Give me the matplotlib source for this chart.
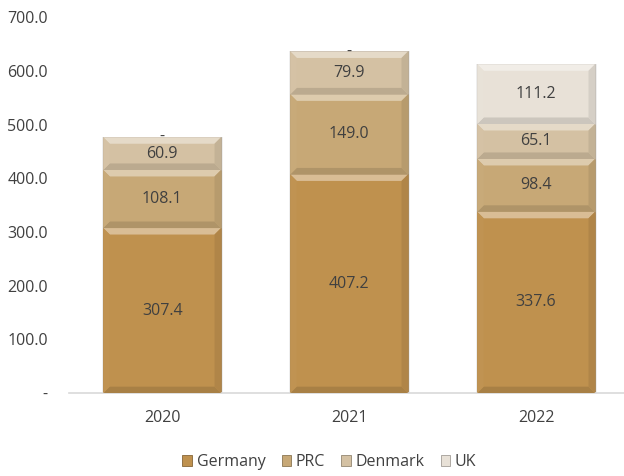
import matplotlib

matplotlib.use("Agg")
import matplotlib.pyplot as plt
import numpy as np
from matplotlib.colors import to_rgb
from matplotlib.patches import Patch, Polygon
from matplotlib.ticker import FuncFormatter

years = ["2020", "2021", "2022"]
germany = [307.4, 407.2, 337.6]
prc = [108.1, 149.0, 98.4]
denmark = [60.9, 79.9, 65.1]
uk = [0.0, 0.0, 111.2]

series = [
    ("Germany", germany, "#BF914E"),
    ("PRC", prc, "#C7A876"),
    ("Denmark", denmark, "#D4C1A3"),
    ("UK", uk, "#E8E1D7"),
]

plt.rcParams["font.family"] = ["Open Sans", "DejaVu Sans"]
TEXT = "#404040"


def shade(color, amount):
    # amount > 0 mixes toward white, < 0 toward black
    c = np.array(to_rgb(color))
    if amount >= 0:
        return tuple(c + (1 - c) * amount)
    return tuple(c * (1 + amount))


fig = plt.figure(figsize=(6.24, 4.76), dpi=100)
ax = fig.add_axes([0.11, 0.174, 0.89, 0.79])
ax.set_xlim(-0.5, 2.47)
ax.set_ylim(0, 700)

x = np.arange(len(years))
width = 0.63

# pixel scale, used to keep the bevel a constant size on screen
px_x = 0.89 * 624 / 2.97
px_y = 0.79 * 476 / 700
bevel_px = 6.5

bottom = np.zeros(len(years))
for name, vals, color in series:
    vals = np.array(vals)
    bars = ax.bar(x, vals, width, bottom=bottom, color=color, edgecolor=shade(color, -0.2),
                  linewidth=0.5, zorder=2)
    for bar, v in zip(bars, vals):
        if v <= 0:
            continue
        x0, y0 = bar.get_x(), bar.get_y()
        x1, y1 = x0 + bar.get_width(), y0 + bar.get_height()
        by = min(bevel_px, bar.get_height() * px_y / 2.2) / px_y
        bx = by * px_y / px_x
        faces = [
            ([(x0, y1), (x1, y1), (x1 - bx, y1 - by), (x0 + bx, y1 - by)], shade(color, 0.4)),
            ([(x0, y0), (x1, y0), (x1 - bx, y0 + by), (x0 + bx, y0 + by)], shade(color, -0.12)),
            ([(x0, y0), (x0 + bx, y0 + by), (x0 + bx, y1 - by), (x0, y1)], shade(color, 0.02)),
            ([(x1, y0), (x1 - bx, y0 + by), (x1 - bx, y1 - by), (x1, y1)], shade(color, -0.08)),
        ]
        for pts, fc in faces:
            ax.add_patch(Polygon(pts, closed=True, facecolor=fc, edgecolor="none", zorder=3))
        # soft shadow behind each segment
        ax.add_patch(Polygon([(x0 - 0.006, y0 - 2), (x1 + 0.008, y0 - 2), (x1 + 0.008, y1 + 1), (x0 - 0.006, y1 + 1)],
                             closed=True, facecolor="#EEEEEE", edgecolor="none", zorder=1))
    for xi, b, v in zip(x, bottom, vals):
        label = "-" if v == 0 else f"{v:.1f}"
        ax.text(xi, b + v / 2, label, ha="center", va="center", fontsize=11.5, color=TEXT, zorder=4)
    bottom = bottom + vals

ax.set_xticks(x)
ax.set_xticklabels(years)
ax.set_yticks(np.arange(0, 701, 100))
ax.yaxis.set_major_formatter(FuncFormatter(lambda v, _: "-" if v == 0 else f"{v:.1f}"))
ax.tick_params(axis="both", length=0, labelsize=11.5, labelcolor=TEXT)
ax.tick_params(axis="x", pad=12)
ax.tick_params(axis="y", pad=15)
for side in ("top", "right", "left"):
    ax.spines[side].set_visible(False)
ax.spines["bottom"].set_color("#D9D9D9")
ax.spines["bottom"].set_linewidth(1.2)

handles = [Patch(facecolor=c, edgecolor=shade(c, -0.3), linewidth=0.6, label=n) for n, _, c in series]
fig.legend(handles=handles, loc="lower center", bbox_to_anchor=(0.528, -0.018), ncol=4, frameon=False,
           fontsize=11.5, labelcolor=TEXT, handlelength=0.6, handleheight=0.6, handletextpad=0.3,
           columnspacing=1.0)

fig.savefig("out.png", dpi=100)
